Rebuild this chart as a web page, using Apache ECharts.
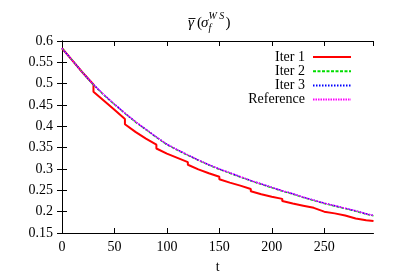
<!DOCTYPE html>
<html>
<head>
<meta charset="utf-8">
<script src="https://cdn.jsdelivr.net/npm/echarts@6/dist/echarts.min.js"></script>
<style>html,body{margin:0;padding:0;background:#fff;}#c{width:399px;height:279px;}</style>
</head>
<body>
<div id="c"></div>
<script>
const seriesNames = ['Iter 1', 'Iter 2', 'Iter 3', 'Reference'];
const xTickLabels = ['0', '50', '100', '150', '200', '250'];
const yTickLabels = ['0.15', '0.2', '0.25', '0.3', '0.35', '0.4', '0.45', '0.5', '0.55', '0.6'];

const iter1T = [0, 10, 20, 30, 30, 40, 50, 60, 60, 70, 80, 90, 90, 100, 110, 120, 120, 130, 140, 150, 150, 160, 170, 180, 180, 190, 200, 210, 210, 220, 230, 240, 240, 250, 260, 270, 270, 280, 290, 297];
const iter1V = [0.583, 0.554, 0.525, 0.498, 0.481, 0.460, 0.439, 0.417, 0.405, 0.387, 0.371, 0.357, 0.348, 0.336, 0.326, 0.316, 0.310, 0.299, 0.290, 0.282, 0.276, 0.268, 0.261, 0.253, 0.248, 0.241, 0.235, 0.230, 0.225, 0.219, 0.214, 0.209, 0.205, 0.200, 0.196, 0.191, 0.187, 0.184, 0.180, 0.178];

const refT = [0, 10, 20, 30, 40, 50, 60, 70, 80, 90, 100, 110, 120, 130, 140, 150, 160, 170, 180, 190, 200, 210, 220, 230, 240, 250, 260, 270, 280, 290, 297];
const iter2V = [0.583, 0.554, 0.525, 0.497, 0.473, 0.451, 0.430, 0.410, 0.392, 0.374, 0.357, 0.344, 0.332, 0.320, 0.309, 0.299, 0.290, 0.281, 0.272, 0.264, 0.256, 0.248, 0.241, 0.233, 0.226, 0.219, 0.213, 0.207, 0.201, 0.194, 0.190];
const iter3V = [0.583, 0.554, 0.525, 0.498, 0.474, 0.452, 0.431, 0.411, 0.393, 0.375, 0.358, 0.345, 0.333, 0.321, 0.310, 0.300, 0.291, 0.282, 0.273, 0.265, 0.257, 0.249, 0.242, 0.234, 0.227, 0.220, 0.214, 0.208, 0.202, 0.195, 0.191];
const refV   = [0.583, 0.554, 0.525, 0.498, 0.474, 0.452, 0.431, 0.411, 0.393, 0.375, 0.358, 0.345, 0.333, 0.321, 0.310, 0.300, 0.291, 0.282, 0.273, 0.265, 0.257, 0.249, 0.242, 0.234, 0.227, 0.220, 0.214, 0.208, 0.202, 0.195, 0.191];

const FONT = "'Liberation Serif', 'DejaVu Serif', serif";
const pairs = (xs, ys) => xs.map((x, i) => [x, ys[i]]);
const xLabelSet = new Set(xTickLabels);
const yLabelSet = new Set(yTickLabels);

const chart = echarts.init(document.getElementById('c'), null, {renderer: 'canvas'});

const baseX = {
  type: 'value', min: 0, max: 297, interval: 50,
  splitLine: {show: false},
  axisLine: {show: true, lineStyle: {color: '#000', width: 1}},
  axisTick: {show: true, inside: true, length: 5, lineStyle: {color: '#000'}},
};
const baseY = {
  type: 'value', min: 0.15, max: 0.6, interval: 0.05,
  splitLine: {show: false},
  axisLine: {show: true, lineStyle: {color: '#000', width: 1}},
  axisTick: {show: true, inside: true, length: 5, lineStyle: {color: '#000'}},
};

const lineSeries = (name, data, color, width, dash, z) => ({
  name, type: 'line', data, symbol: 'none', showSymbol: false,
  xAxisIndex: 0, yAxisIndex: 0, z,
  lineStyle: {color, width, type: dash},
  itemStyle: {color},
  emphasis: {disabled: true},
  animation: false
});

chart.setOption({
  animation: false,
  backgroundColor: '#fff',
  grid: {left: 62, right: 25.5, top: 41, bottom: 45, show: false},
  legend: {
    show: true, orient: 'vertical', align: 'right',
    right: 42, top: 45,
    itemWidth: 38, itemHeight: 14, itemGap: 0.2,
    selectedMode: false,
    itemStyle: {opacity: 0},
    textStyle: {fontFamily: FONT, fontSize: 14, color: '#000', lineHeight: 14, padding: [0, 3, 0, 0]},
    data: seriesNames
  },
  xAxis: [
    Object.assign({}, baseX, {
      position: 'bottom',
      name: 't', nameLocation: 'middle', nameGap: 27,
      nameTextStyle: {fontFamily: FONT, fontSize: 14, color: '#000'},
      axisLabel: {show: true, margin: 7, fontFamily: FONT, fontSize: 14, color: '#000',
        showMaxLabel: false,
        formatter: v => { const s = String(Math.round(v)); return xLabelSet.has(s) && Math.abs(v - Math.round(v)) < 1e-9 ? s : ''; }}
    }),
    Object.assign({}, baseX, {position: 'top', axisLabel: {show: false}})
  ],
  yAxis: [
    Object.assign({}, baseY, {
      position: 'left',
      axisLabel: {show: true, margin: 9, fontFamily: FONT, fontSize: 14, color: '#000',
        formatter: v => { const s = String(parseFloat(v.toFixed(2))); return yLabelSet.has(s) ? s : ''; }}
    }),
    Object.assign({}, baseY, {position: 'right', axisLabel: {show: false}})
  ],
  graphic: [
    {type: 'text', left: 188, top: 16, style: {text: 'γ', font: "italic 15px " + FONT, fill: '#000'}},
    {type: 'line', shape: {x1: 188.5, y1: 18.5, x2: 195.5, y2: 18.5}, style: {stroke: '#000', lineWidth: 0.9}},
    {type: 'text', left: 197, top: 15.5, style: {text: '(', font: "15px " + FONT, fill: '#000'}},
    {type: 'text', left: 201, top: 15.5, style: {text: 'σ', font: "italic 15px " + FONT, fill: '#000'}},
    {type: 'text', left: 208.5, top: 11, style: {text: 'W S', font: "italic 10px " + FONT, fill: '#000'}},
    {type: 'text', left: 208.5, top: 23.5, style: {text: 'f', font: "italic 10px " + FONT, fill: '#000'}},
    {type: 'text', left: 225.5, top: 15.5, style: {text: ')', font: "15px " + FONT, fill: '#000'}}
  ],
  series: [
    lineSeries(seriesNames[0], pairs(iter1T, iter1V), '#ff0000', 2, 'solid', 2),
    lineSeries(seriesNames[1], pairs(refT, iter2V), '#00dd00', 1.4, [3, 1.5], 3),
    lineSeries(seriesNames[2], pairs(refT, iter3V), '#0000ff', 1.4, [1.5, 1.5], 4),
    lineSeries(seriesNames[3], pairs(refT, refV), '#ff00ff', 1.5, [1.5, 1], 5)
  ]
});
</script>
</body>
</html>
